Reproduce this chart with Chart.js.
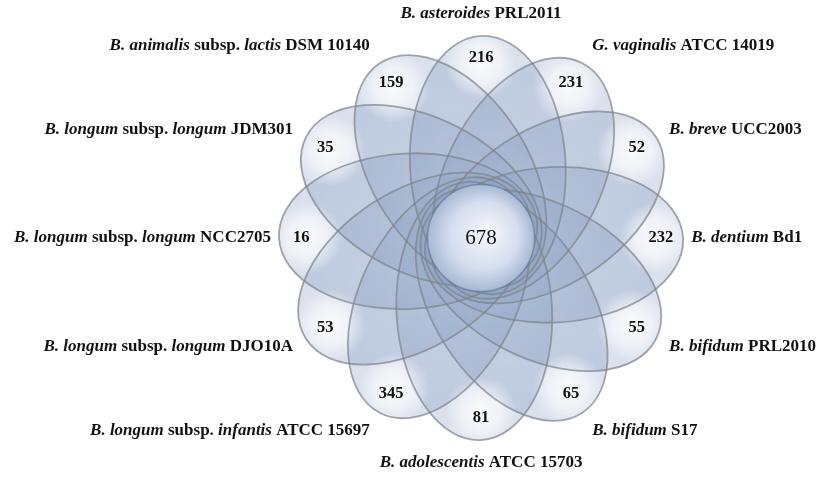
<!DOCTYPE html>
<html lang="en">
<head>
<meta charset="UTF-8">
<title>Flower plot</title>
<script src="https://cdn.jsdelivr.net/npm/chart.js"></script>
<style>
  html, body { margin: 0; padding: 0; background: #fff; }
  .box { width: 816px; height: 477px; }
</style>
</head>
<body>
<div class="box"><canvas id="flower"></canvas></div>
<script>
  // petals clockwise from the top, _text_ is italic
  const strains = [
    '_B. asteroides_ PRL2011',
    '_G. vaginalis_ ATCC 14019',
    '_B. breve_ UCC2003',
    '_B. dentium_ Bd1',
    '_B. bifidum_ PRL2010',
    '_B. bifidum_ S17',
    '_B. adolescentis_ ATCC 15703',
    '_B. longum_ subsp. _infantis_ ATCC 15697',
    '_B. longum_ subsp. _longum_ DJO10A',
    '_B. longum_ subsp. _longum_ NCC2705',
    '_B. longum_ subsp. _longum_ JDM301',
    '_B. animalis_ subsp. _lactis_ DSM 10140'
  ];
  const uniqueGenes = [216, 231, 52, 232, 55, 65, 81, 345, 53, 16, 35, 159];
  const coreGenes = 678;

  // geometry in units of the petal tip radius
  const PETAL_A = 0.64, PETAL_B = 0.385, TWIST = 3;
  const COUNT_R = 0.89, CORE_R = 0.265;

  const rad = d => d * Math.PI / 180;
  const petalAngle = i => 90 - 30 * i;

  function drawRich(ctx, str, x, y, align) {
    const parts = str.split('_');
    const fontOf = k => (k % 2 ? 'italic bold ' : 'bold ') + '17px "Liberation Serif"';
    let w = 0;
    parts.forEach((p, k) => { ctx.font = fontOf(k); w += ctx.measureText(p).width; });
    let cx = align === 'left' ? x : align === 'right' ? x - w : x - w / 2;
    ctx.textAlign = 'left';
    ctx.textBaseline = 'middle';
    parts.forEach((p, k) => {
      ctx.font = fontOf(k);
      ctx.fillText(p, cx, y);
      cx += ctx.measureText(p).width;
    });
  }

  const flowerPlugin = {
    id: 'flower',
    beforeDatasetsDraw(chart) {
      const ctx = chart.ctx, xs = chart.scales.x, ys = chart.scales.y;
      const px = v => xs.getPixelForValue(v), py = v => ys.getPixelForValue(v);
      const unit = px(1) - px(0);
      const a = PETAL_A * unit, b = PETAL_B * unit;

      const petals = uniqueGenes.map((v, i) => {
        const t = rad(petalAngle(i));
        const axis = rad(petalAngle(i) + TWIST);
        const tipX = px(Math.cos(t)), tipY = py(Math.sin(t));
        const dx = Math.cos(axis), dy = -Math.sin(axis);
        return {
          tipX, tipY, dx, dy, cx: tipX - dx * a, cy: tipY - dy * a, rot: -axis,
          hx: px(COUNT_R * 0.97 * Math.cos(t)), hy: py(COUNT_R * 0.97 * Math.sin(t))
        };
      });
      const path = p => {
        ctx.beginPath();
        ctx.ellipse(p.cx, p.cy, a, b, p.rot, 0, Math.PI * 2);
      };

      // translucent tint, fading towards the inner end
      petals.forEach(p => {
        const g = ctx.createLinearGradient(p.tipX, p.tipY, p.tipX - p.dx * 2 * a, p.tipY - p.dy * 2 * a);
        g.addColorStop(0, 'rgba(108,136,180,0.26)');
        g.addColorStop(0.4, 'rgba(108,136,180,0.23)');
        g.addColorStop(1, 'rgba(108,136,180,0.08)');
        path(p);
        ctx.fillStyle = g;
        ctx.fill();
      });
      // white sheen near each tip
      petals.forEach(p => {
        const g = ctx.createRadialGradient(p.hx, p.hy, 0, p.hx, p.hy, 36);
        g.addColorStop(0, 'rgba(255,255,255,0.85)');
        g.addColorStop(0.55, 'rgba(255,255,255,0.55)');
        g.addColorStop(1, 'rgba(255,255,255,0)');
        ctx.save();
        path(p);
        ctx.clip();
        ctx.fillStyle = g;
        ctx.fillRect(p.hx - 40, p.hy - 40, 80, 80);
        ctx.restore();
      });
      // outlines
      petals.forEach(p => {
        path(p);
        ctx.strokeStyle = 'rgba(128,132,142,0.72)';
        ctx.lineWidth = 1.8;
        ctx.stroke();
      });

      // core circle
      const ox = px(0), oy = py(0), r = CORE_R * unit;
      const cg = ctx.createRadialGradient(ox + 8, oy - 6, 4, ox, oy, r);
      cg.addColorStop(0, '#f2f5fb');
      cg.addColorStop(0.6, '#d5deee');
      cg.addColorStop(1, '#a6b8d4');
      ctx.beginPath();
      ctx.arc(ox, oy, r, 0, Math.PI * 2);
      ctx.fillStyle = cg;
      ctx.fill();
      ctx.strokeStyle = 'rgba(90,105,135,0.5)';
      ctx.lineWidth = 1.6;
      ctx.stroke();
    },
    afterDatasetsDraw(chart) {
      const ctx = chart.ctx, xs = chart.scales.x, ys = chart.scales.y;
      const meta = chart.getDatasetMeta(0);
      ctx.save();
      ctx.fillStyle = '#111';
      ctx.textAlign = 'center';
      ctx.textBaseline = 'middle';
      ctx.font = 'bold 16.5px "Liberation Serif"';
      meta.data.forEach((pt, i) => ctx.fillText(String(uniqueGenes[i]), pt.x, pt.y));

      ctx.font = '21px "Liberation Serif"';
      ctx.fillText(String(coreGenes), xs.getPixelForValue(0), ys.getPixelForValue(0));

      strains.forEach((s, i) => {
        const t = rad(petalAngle(i));
        const c = Math.cos(t), sn = Math.sin(t);
        const lr = 1.04 + 0.07 * Math.abs(sn);
        const align = c > 0.1 ? 'left' : c < -0.1 ? 'right' : 'center';
        drawRich(ctx, s, xs.getPixelForValue(lr * c), ys.getPixelForValue(lr * sn), align);
      });
      ctx.restore();
    }
  };

  new Chart(document.getElementById('flower'), {
    type: 'scatter',
    data: {
      datasets: [{
        data: uniqueGenes.map((v, i) => ({
          x: COUNT_R * Math.cos(rad(petalAngle(i))),
          y: COUNT_R * Math.sin(rad(petalAngle(i)))
        })),
        pointRadius: 0
      }]
    },
    options: {
      responsive: true,
      maintainAspectRatio: false,
      animation: false,
      layout: { padding: 0 },
      plugins: { legend: { display: false }, tooltip: { enabled: false } },
      scales: {
        x: { type: 'linear', min: -2.381, max: 1.658, display: false },
        y: { type: 'linear', min: -1.183, max: 1.178, display: false }
      }
    },
    plugins: [flowerPlugin]
  });
</script>
</body>
</html>
